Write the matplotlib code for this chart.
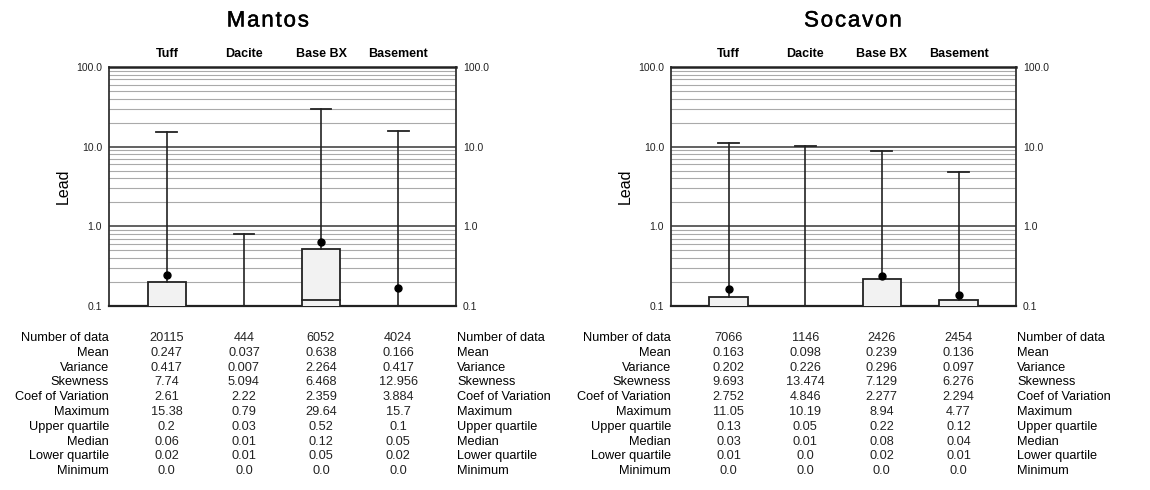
import matplotlib
matplotlib.use("Agg")
import matplotlib.pyplot as plt
import matplotlib.transforms as mtransforms
import matplotlib.patheffects as pe
from matplotlib.patches import Rectangle
import numpy as np

plt.rcParams['font.family'] = ['Liberation Sans', 'DejaVu Sans']

categories = ["Tuff", "Dacite", "Base BX", "Basement"]
row_labels = ["Number of data", "Mean", "Variance", "Skewness", "Coef of Variation",
              "Maximum", "Upper quartile", "Median", "Lower quartile", "Minimum"]
y_ticks = [0.1, 1.0, 10.0, 100.0]
y_tick_labels = ["0.1", "1.0", "10.0", "100.0"]

# Mantos
mantos_n = [20115, 444, 6052, 4024]
mantos_mean = [0.247, 0.037, 0.638, 0.166]
mantos_var = [0.417, 0.007, 2.264, 0.417]
mantos_skew = [7.74, 5.094, 6.468, 12.956]
mantos_cv = [2.61, 2.22, 2.359, 3.884]
mantos_max = [15.38, 0.79, 29.64, 15.7]
mantos_uq = [0.2, 0.03, 0.52, 0.1]
mantos_med = [0.06, 0.01, 0.12, 0.05]
mantos_lq = [0.02, 0.01, 0.05, 0.02]
mantos_min = [0.0, 0.0, 0.0, 0.0]

# Socavon
socavon_n = [7066, 1146, 2426, 2454]
socavon_mean = [0.163, 0.098, 0.239, 0.136]
socavon_var = [0.202, 0.226, 0.296, 0.097]
socavon_skew = [9.693, 13.474, 7.129, 6.276]
socavon_cv = [2.752, 4.846, 2.277, 2.294]
socavon_max = [11.05, 10.19, 8.94, 4.77]
socavon_uq = [0.13, 0.05, 0.22, 0.12]
socavon_med = [0.03, 0.01, 0.08, 0.04]
socavon_lq = [0.01, 0.0, 0.02, 0.01]
socavon_min = [0.0, 0.0, 0.0, 0.0]

W, H = 1150, 490
fig = plt.figure(figsize=(W / 100, H / 100), dpi=100)

YMIN, YMAX = 0.1, 100.0
TABLE_FS = 9.2


def panel(rect_px, title, title_x, n, mean, var, skew, cv, mx, uq, med, lq, mn):
    x0, x1, y0, y1 = rect_px  # pixel coords (top-origin y)
    ax = fig.add_axes([x0 / W, 1 - y1 / H, (x1 - x0) / W, (y1 - y0) / H])
    ax.set_yscale('log')
    ax.set_ylim(YMIN, YMAX)
    ax.set_xlim(-0.75, 3.75)
    ax.set_xticks([])
    ax.set_yticks(y_ticks)
    ax.set_yticklabels(y_tick_labels)
    ax.yaxis.set_minor_locator(matplotlib.ticker.NullLocator())
    ax.tick_params(axis='y', which='both', length=0, labelsize=7.5,
                   labelcolor='#222222', left=True, right=True,
                   labelleft=True, labelright=True, pad=5)

    # grid lines
    for dec in [0.1, 1.0, 10.0]:
        for k in range(2, 10):
            ax.axhline(dec * k, color='#aaaaaa', lw=0.8, zorder=0.5)
    for v in [1.0, 10.0]:
        ax.axhline(v, color='#555555', lw=1.3, zorder=0.6)

    for s in ['left', 'right']:
        ax.spines[s].set_color('#333333')
        ax.spines[s].set_linewidth(1.3)
    ax.spines['top'].set_color('#222222')
    ax.spines['top'].set_linewidth(1.8)
    ax.spines['bottom'].set_color('#222222')
    ax.spines['bottom'].set_linewidth(1.6)

    bw = 0.5
    cw = 0.27
    for i in range(len(categories)):
        top = uq[i]
        base = YMIN
        if top > YMIN:
            lo = max(lq[i], 0.05)
            rect = Rectangle((i - bw / 2, lo), bw, top - lo, facecolor='#f2f2f2',
                             edgecolor='#222222', lw=1.3, zorder=3)
            ax.add_patch(rect)
            if med[i] > YMIN:
                ax.plot([i - bw / 2, i + bw / 2], [med[i], med[i]], color='#222222',
                        lw=1.3, zorder=3.5)
            base = top
        ax.plot([i, i], [base, mx[i]], color='#222222', lw=1.2, zorder=4)
        ax.plot([i - cw / 2, i + cw / 2], [mx[i], mx[i]], color='#222222', lw=1.3, zorder=4)
        if mean[i] > YMIN:
            ax.plot([i], [mean[i]], 'o', color='black', ms=5, zorder=5)

    # category labels
    for i, c in enumerate(categories):
        ax.text(i, 1.053, c, transform=mtransforms.blended_transform_factory(ax.transData, ax.transAxes),
                ha='center', va='center', fontsize=9, fontweight='bold')
    spaced = "\u200a".join(title)
    fig.text(title_x / W, 1 - 21 / H, spaced, ha='center', va='center', fontsize=16,
             path_effects=[pe.withStroke(linewidth=0.35, foreground='black')])
    ax.set_ylabel('Lead', fontsize=11.5, labelpad=4)

    # statistics table
    rows = [n, mean, var, skew, cv, mx, uq, med, lq, mn]
    row_y = [338 + k * 14.8 for k in range(len(rows))]
    tr_val = mtransforms.blended_transform_factory(ax.transData, fig.transFigure)
    tr_lab = mtransforms.blended_transform_factory(ax.transAxes, fig.transFigure)
    for r, (lab, vals) in enumerate(zip(row_labels, rows)):
        yf = 1 - row_y[r] / H
        ax.text(0.0, yf, lab, transform=tr_lab, ha='right', va='center', fontsize=TABLE_FS)
        ax.text(1.003, yf, lab, transform=tr_lab, ha='left', va='center', fontsize=TABLE_FS)
        for i, v in enumerate(vals):
            ax.text(i, yf, str(v), transform=tr_val, ha='center', va='center',
                    fontsize=TABLE_FS, color='#222222')
    return ax


panel((109, 456, 67, 306), "Mantos", 268, mantos_n, mantos_mean, mantos_var, mantos_skew,
      mantos_cv, mantos_max, mantos_uq, mantos_med, mantos_lq, mantos_min)
panel((671, 1016, 67, 306), "Socavon", 853, socavon_n, socavon_mean, socavon_var, socavon_skew,
      socavon_cv, socavon_max, socavon_uq, socavon_med, socavon_lq, socavon_min)

fig.savefig("out.png", dpi=100, facecolor='white')
